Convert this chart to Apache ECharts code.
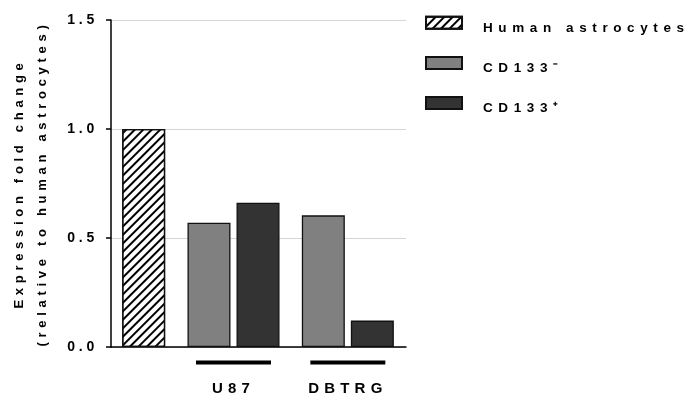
<!DOCTYPE html>
<html>
<head>
<meta charset="utf-8">
<script src="https://cdn.jsdelivr.net/npm/echarts@6/dist/echarts.min.js"></script>
<style>
html,body{margin:0;padding:0;background:#fff;}
#chart{width:694px;height:396px;}
</style>
</head>
<body>
<div id="chart"></div>
<script>
// ---- data ----
const categories = ['', 'U87', 'DBTRG'];
const legendNames = ['Human astrocytes', 'CD133\u207B', 'CD133\u207A'];
const humanAstrocytes = [1.0, null, null];
const cd133Neg = [null, 0.57, 0.604];
const cd133Pos = [null, 0.662, 0.121];
const yMin = 0, yMax = 1.5, yStep = 0.5;
const yTitle = 'Expression fold change\n(relative to human astrocytes)';

// ---- letter spacing (Prism-like wide tracking), keyed by font size ----
const SPACING = {'13.5': 5.6, '13': 4.7, '14': 3.8, '15': 5.2};
(function(){
  const proto = CanvasRenderingContext2D.prototype;
  if (!('letterSpacing' in proto)) return;
  const of = proto.fillText, om = proto.measureText;
  function setSp(ctx){
    const m = /(\d+(?:\.\d+)?)px/.exec(ctx.font);
    const s = m ? SPACING[String(+m[1])] : 0;
    ctx.letterSpacing = (s || 0) + 'px';
  }
  proto.fillText = function(t, x, y, w){ setSp(this); return w === undefined ? of.call(this, t, x, y) : of.call(this, t, x, y, w); };
  proto.measureText = function(t){ setSp(this); return om.call(this, t); };
})();

const FONT = 'Liberation Sans, Arial, sans-serif';
const chart = echarts.init(document.getElementById('chart'), null, {renderer: 'canvas'});

const barCommon = {
  type: 'bar', xAxisIndex: 1, yAxisIndex: 1,
  barWidth: 43, barGap: '14%',
  emphasis: {disabled: true},
  animation: false
};

chart.setOption({
  animation: false,
  backgroundColor: '#fff',
  grid: [
    {left: 111, right: 288, top: 20, bottom: 49, outerBoundsMode: 'none', containLabel: false},
    {left: 62, right: 289, top: 20, bottom: 49, outerBoundsMode: 'none', containLabel: false}
  ],
  legend: {
    orient: 'vertical', left: 425, top: 7.5, padding: 0,
    icon: 'rect',
    itemWidth: 36, itemHeight: 12, itemGap: 9.5,
    data: legendNames,
    selectedMode: false,
    formatter: name => '{t|' + name + '}',
    textStyle: {
      fontFamily: FONT, fontSize: 13.5, fontWeight: 'bold', color: '#000',
      rich: {t: {fontFamily: FONT, fontSize: 13.5, fontWeight: 'bold', color: '#000', lineHeight: 15, padding: [11, 0, 0, 16]}}
    }
  },
  xAxis: [
    {type: 'category', gridIndex: 0, data: categories, axisLine: {lineStyle: {color: '#000', width: 1.5}},
     axisTick: {show: false}, axisLabel: {show: false}, splitLine: {show: false}},
    {type: 'category', gridIndex: 1, data: categories, axisLine: {show: false}, axisTick: {show: false},
     axisLabel: {
       interval: 0, margin: 13.5,
       formatter: v => v ? '{u|}\n{n|' + v + '}' : '',
       rich: {
         u: {width: 75, height: 4, lineHeight: 4, backgroundColor: '#000', align: 'center'},
         n: {fontFamily: FONT, fontSize: 15, fontWeight: 'bold', color: '#000', lineHeight: 48, align: 'center'}
       }
     }}
  ],
  yAxis: [
    {type: 'value', gridIndex: 0, min: yMin, max: yMax, interval: yStep,
     name: yTitle, nameLocation: 'middle', nameGap: 57, nameRotate: 90,
     nameTextStyle: {fontFamily: FONT, fontSize: 13, fontWeight: 'bold', color: '#000', lineHeight: 23},
     axisLine: {show: true, lineStyle: {color: '#000', width: 1.5}},
     axisTick: {show: true, length: 5, lineStyle: {color: '#000', width: 1.5}},
     axisLabel: {margin: 13, fontFamily: FONT, fontSize: 14, fontWeight: 'bold', color: '#000', formatter: v => v.toFixed(1)},
     splitLine: {show: true, lineStyle: {color: '#d6d6d6', width: 1}}},
    {type: 'value', gridIndex: 1, min: yMin, max: yMax, interval: yStep, show: false}
  ],
  series: [
    Object.assign({}, barCommon, {
      name: legendNames[1], data: cd133Neg,
      itemStyle: {color: '#808080', borderColor: '#111', borderWidth: 1.3}
    }),
    Object.assign({}, barCommon, {
      name: legendNames[0], data: humanAstrocytes, stack: 'g',
      itemStyle: {color: '#fff', borderColor: '#111', borderWidth: 1.3,
        decal: {symbol: 'rect', symbolSize: 1, color: '#000', dashArrayX: [1, 0], dashArrayY: [1.4, 3.2], rotation: -Math.PI / 4}}
    }),
    Object.assign({}, barCommon, {
      name: legendNames[2], data: cd133Pos, stack: 'g',
      itemStyle: {color: '#333333', borderColor: '#111', borderWidth: 1.3}
    })
  ]
});
</script>
</body>
</html>
